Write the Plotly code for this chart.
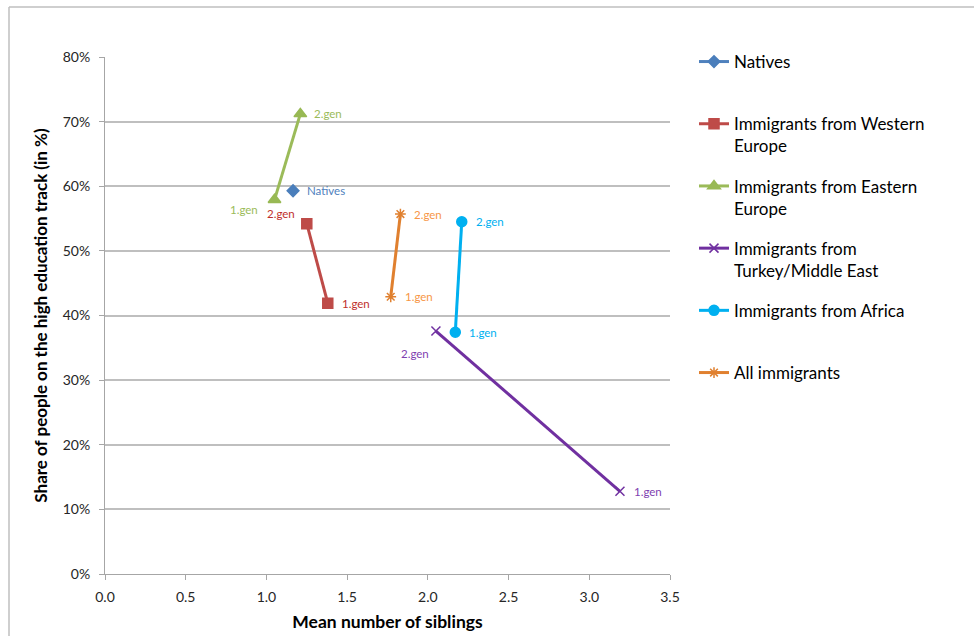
import plotly.graph_objects as go

# ---- data ----
series_names = [
    "Natives",
    "Immigrants from Western<br>Europe",
    "Immigrants from Eastern<br>Europe",
    "Immigrants from<br>Turkey/Middle East",
    "Immigrants from Africa",
    "All immigrants",
]
natives_x = [1.165]
natives_y = [0.593]
west_x = [1.38, 1.25]
west_y = [0.419, 0.542]
east_x = [1.05, 1.21]
east_y = [0.579, 0.712]
turkey_x = [3.19, 2.05]
turkey_y = [0.128, 0.376]
africa_x = [2.17, 2.21]
africa_y = [0.374, 0.545]
allimm_x = [1.77, 1.83]
allimm_y = [0.429, 0.557]

natives_labels = ["Natives"]
gen_labels = ["1.gen", "2.gen"]

y_ticks = [0, 0.1, 0.2, 0.3, 0.4, 0.5, 0.6, 0.7, 0.8]
x_ticks = [0, 0.5, 1.0, 1.5, 2.0, 2.5, 3.0, 3.5]

FONT = "Lato"

# (x, y, labels, line colour, marker colour, symbol, size, label colour, label placements (anchor, dx, dy-down))
styles = [
    (natives_x, natives_y, natives_labels, "#4F81BD", "#4A7EBB", "diamond", 9, "#4F81BD",
     [("left", 12, 0)]),
    (west_x, west_y, gen_labels, "#BE4B48", "#BE4B48", "square", 10, "#C0302B",
     [("left", 12, 0), ("right", -10, -10)]),
    (east_x, east_y, gen_labels, "#9BBB59", "#98B954", "triangle-up", 11, "#9BBB59",
     [("right", -15, 10), ("left", 12, 0)]),
    (turkey_x, turkey_y, gen_labels, "#7030A0", "#7030A0", "x-thin-open", 9, "#7F3FB0",
     [("left", 12, 0), ("right", -5, 22)]),
    (africa_x, africa_y, gen_labels, "#00B0F0", "#00B0F0", "circle", 10, "#00B0F0",
     [("left", 12, 0), ("left", 12, 0)]),
    (allimm_x, allimm_y, gen_labels, "#E0802F", "#E0802F", "asterisk-open", 9, "#F79646",
     [("left", 12, 0), ("left", 12, 0)]),
]

fig = go.Figure()
annotations = []
for i, (name, st) in enumerate(zip(series_names, styles)):
    xs, ys, labs, lc, mc, sym, sz, tc, places = st
    legend_name = name if "<br>" in name else name + "<br> "
    fig.add_trace(go.Scatter(
        x=xs, y=ys, mode="lines+markers", name=legend_name,
        legendgroup="g%d" % i,
        line=dict(color=lc, width=3),
        marker=dict(color=mc, symbol=sym, size=sz,
                    line=dict(color=mc, width=1.5)),
        hoverinfo="skip",
    ))
    for xv, yv, lab, (anc, dx, dy) in zip(xs, ys, labs, places):
        annotations.append(dict(
            x=xv, y=yv, xref="x", yref="y", text=lab, showarrow=False,
            xanchor=anc, yanchor="middle", xshift=dx, yshift=-dy,
            font=dict(family=FONT, size=11.5, color=tc),
        ))

L, R, T, B = 105, 304, 57, 62
W, H = 974, 636
pw, ph = W - L - R, H - T - B


def px(xp):
    return (xp - L) / pw


def py(yp):
    return (H - B - yp) / ph


shapes = [
    dict(type="line", xref="paper", yref="paper",
         x0=px(9), y0=py(640), x1=px(9), y1=py(7),
         line=dict(color="#BFBFBF", width=1.5)),
    dict(type="line", xref="paper", yref="paper",
         x0=px(9), y0=py(7), x1=px(980), y1=py(7),
         line=dict(color="#BFBFBF", width=1.5)),
]

fig.update_layout(
    width=W, height=H,
    margin=dict(l=L, r=R, t=T, b=B, autoexpand=False),
    paper_bgcolor="white", plot_bgcolor="white",
    font=dict(family=FONT, color="#000000"),
    showlegend=True,
    legend=dict(
        x=px(694), y=py(44), xanchor="left", yanchor="top",
        font=dict(family=FONT, size=17, color="#000000"),
        tracegroupgap=15, valign="top", itemwidth=30,
        bgcolor="rgba(0,0,0,0)", maxheight=1.0,
    ),
    xaxis=dict(
        range=[0, 3.5], tickvals=x_ticks,
        ticktext=["%.1f" % v for v in x_ticks],
        showgrid=False, zeroline=False, automargin=False,
        showline=True, linecolor="#A6A6A6", linewidth=1,
        ticks="outside", ticklen=5, tickcolor="#A6A6A6",
        ticklabelstandoff=5,
        tickfont=dict(family=FONT, size=14, color="#262626"),
        title=dict(text="<b>Mean number of siblings</b>", standoff=11,
                   font=dict(family=FONT, size=17.5, color="#000000")),
    ),
    yaxis=dict(
        range=[0, 0.8], tickvals=y_ticks,
        ticktext=["%d%%" % round(v * 100) for v in y_ticks],
        showgrid=True, gridcolor="#BFBFBF", gridwidth=1.5, zeroline=False,
        automargin=False,
        showline=True, linecolor="#A6A6A6", linewidth=1,
        ticks="outside", ticklen=5, tickcolor="#A6A6A6",
        ticklabelstandoff=6,
        tickfont=dict(family=FONT, size=14, color="#262626"),
        title=dict(text="<b>Share of people on the high education track (in %)</b>",
                   standoff=10,
                   font=dict(family=FONT, size=17, color="#000000")),
    ),
    annotations=annotations,
    shapes=shapes,
)

fig.write_html("out.html", config={"displayModeBar": False},
               post_script="document.body.style.margin='0px';")
